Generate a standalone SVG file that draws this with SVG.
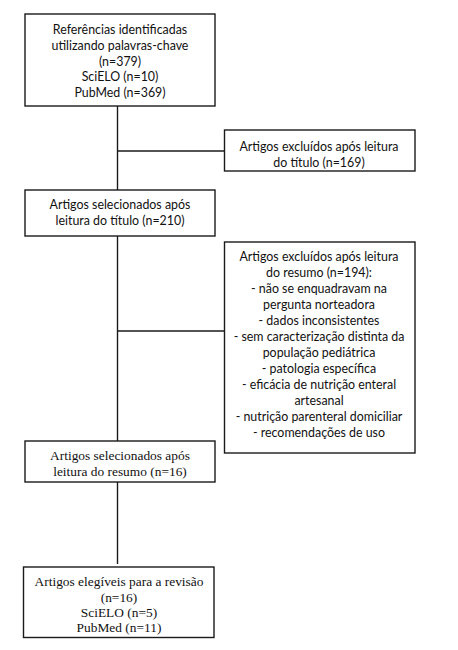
<svg xmlns="http://www.w3.org/2000/svg" width="458" height="650" viewBox="0 0 458 650">
<style>
.box{fill:#fff;stroke:#1a1a1a;stroke-width:1.4}
.ln{stroke:#1a1a1a;stroke-width:1.4;fill:none}
.s{font-family:Lato,"Liberation Sans",sans-serif;font-size:12.4px;fill:#111;text-anchor:middle}
.t{font-family:"Liberation Serif",serif;font-size:13.4px;fill:#111;text-anchor:middle}
</style>
<rect width="458" height="650" fill="#fff"/>
<g id="connectors">
<line class="ln" x1="117.5" y1="106" x2="117.5" y2="190"/>
<line class="ln" x1="117.5" y1="151" x2="224.5" y2="151"/>
<line class="ln" x1="117.5" y1="236" x2="117.5" y2="441"/>
<line class="ln" x1="117.5" y1="331" x2="224.5" y2="331"/>
<line class="ln" x1="117.5" y1="482" x2="117.5" y2="564"/>
</g>
<g id="n1">
<rect class="box" x="25" y="14" width="190" height="92"/>
<text class="s" x="120" y="33.5">Referências identificadas</text>
<text class="s" x="120" y="49.5">utilizando palavras-chave</text>
<text class="s" x="120" y="65.5">(n=379)</text>
<text class="s" x="120" y="80.5">SciELO (n=10)</text>
<text class="s" x="120" y="96.5">PubMed (n=369)</text>
</g>
<g id="n2">
<rect class="box" x="224.5" y="130" width="190.5" height="41"/>
<text class="s" x="319" y="150.5">Artigos excluídos após leitura</text>
<text class="s" x="319" y="166.5">do título (n=169)</text>
</g>
<g id="n3">
<rect class="box" x="25" y="190" width="190" height="46"/>
<text class="s" x="120" y="208.5">Artigos selecionados após</text>
<text class="s" x="120" y="224.5">leitura do título (n=210)</text>
</g>
<g id="n4">
<rect class="box" x="224.5" y="242" width="190.5" height="211"/>
<text class="s" x="319" y="260.5">Artigos excluídos após leitura</text>
<text class="s" x="319" y="276.5">do resumo (n=194):</text>
<text class="s" x="319" y="292.5">- não se enquadravam na</text>
<text class="s" x="319" y="308.5">pergunta norteadora</text>
<text class="s" x="319" y="324.5">- dados inconsistentes</text>
<text class="s" x="319" y="340.5">- sem caracterização distinta da</text>
<text class="s" x="319" y="356.5">população pediátrica</text>
<text class="s" x="319" y="372.5">- patologia específica</text>
<text class="s" x="319" y="388.5">- eficácia de nutrição enteral</text>
<text class="s" x="319" y="404.5">artesanal</text>
<text class="s" x="319" y="420.5">- nutrição parenteral domiciliar</text>
<text class="s" x="319" y="436.5">- recomendações de uso</text>
</g>
<g id="n5">
<rect class="box" x="25" y="441" width="190" height="41"/>
<text class="t" x="120" y="459.5">Artigos selecionados após</text>
<text class="t" x="120" y="475.5">leitura do resumo (n=16)</text>
</g>
<g id="n6">
<rect class="box" x="23.5" y="567" width="190.5" height="70.5"/>
<text class="t" x="119" y="586">Artigos elegíveis para a revisão</text>
<text class="t" x="119" y="602">(n=16)</text>
<text class="t" x="119" y="617">SciELO (n=5)</text>
<text class="t" x="119" y="632">PubMed (n=11)</text>
</g>
</svg>
